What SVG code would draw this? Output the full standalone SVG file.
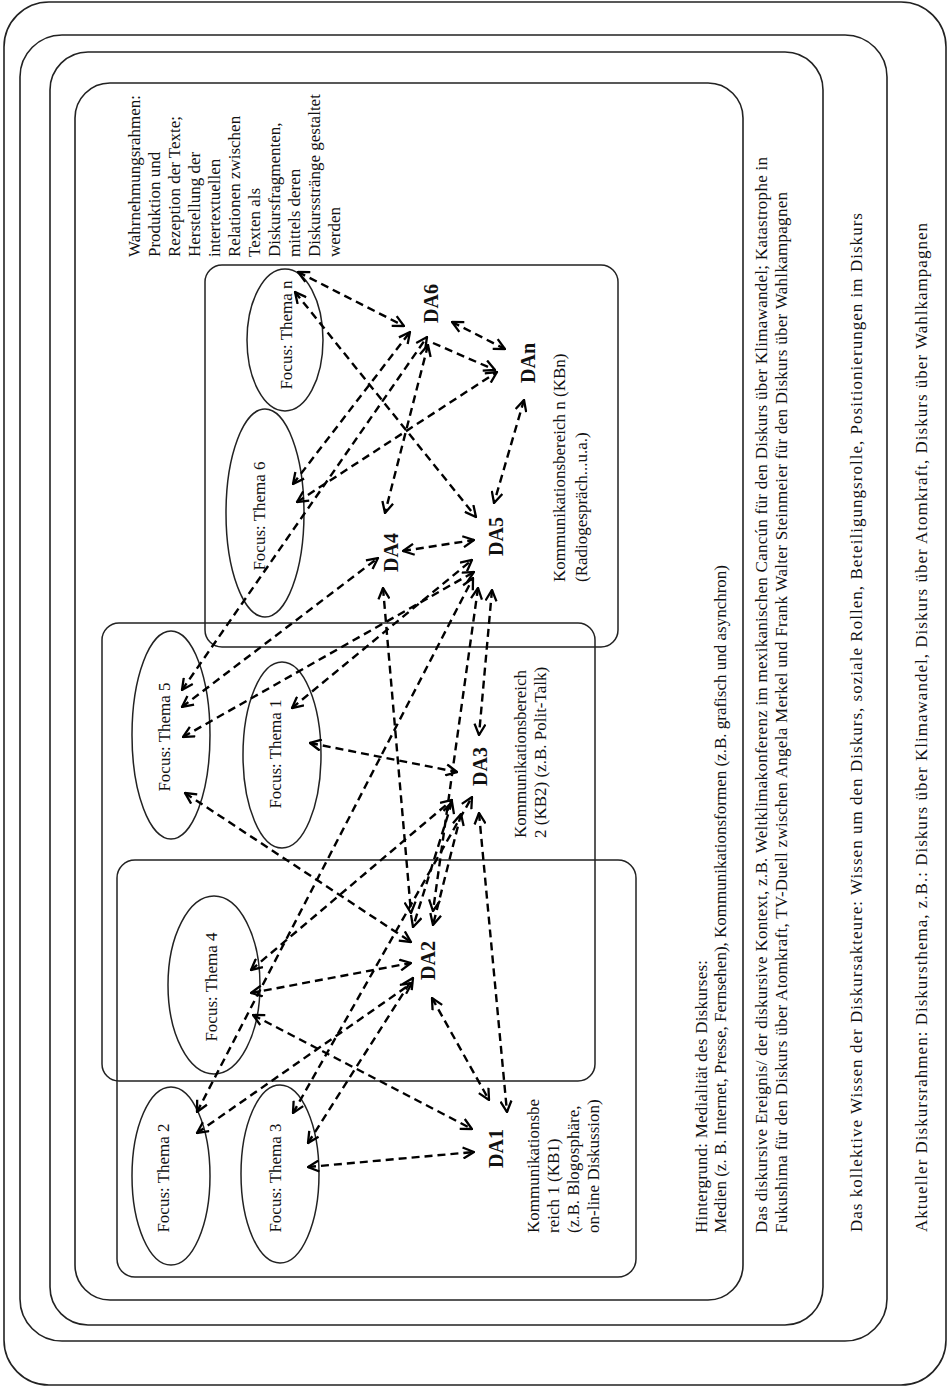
<svg xmlns="http://www.w3.org/2000/svg" width="949" height="1388" viewBox="0 0 949 1388">
<style>
.frame{fill:none;stroke:#222;stroke-width:1.6}
.box{fill:none;stroke:#222;stroke-width:1.5}
.ell{fill:none;stroke:#222;stroke-width:1.5}
.t{font-family:"Liberation Serif","Times New Roman",serif;font-size:17px;fill:#111}
.m{text-anchor:middle}
.da{font-family:"Liberation Serif","Times New Roman",serif;font-size:20px;font-weight:bold;fill:#111}
.c line{stroke:#000;stroke-width:2.4;stroke-dasharray:8 5;fill:none;marker-start:url(#ah);marker-end:url(#ah)}
.c line.e{marker-start:none}
</style>
<defs>
<marker id="ah" viewBox="0 0 13 13" refX="12" refY="6.5" markerWidth="13" markerHeight="13" markerUnits="userSpaceOnUse" orient="auto-start-reverse">
<path d="M1,1 L12,6.5 L1,12" fill="none" stroke="#000" stroke-width="2.3" stroke-dasharray="none"/>
</marker>
</defs>
<rect width="949" height="1388" fill="#fff"/>

<g id="frame-aktueller-diskursrahmen">
<rect class="frame" x="4" y="2" width="942" height="1383" rx="45"/>
<text class="t" transform="translate(927,1232) rotate(-90)" textLength="1009" lengthAdjust="spacing">Aktueller Diskursrahmen: Diskursthema, z.B.: Diskurs über Klimawandel, Diskurs über Atomkraft, Diskurs über Wahlkampagnen</text>
</g>
<g id="frame-kollektives-wissen">
<rect class="frame" x="20" y="35" width="867" height="1306" rx="42"/>
<text class="t" transform="translate(862,1232) rotate(-90)" textLength="1019" lengthAdjust="spacing">Das kollektive Wissen der Diskursakteure: Wissen um den Diskurs, soziale Rollen, Beteiligungsrolle, Positionierungen im Diskurs</text>
</g>
<g id="frame-diskursives-ereignis">
<rect class="frame" x="50" y="52" width="773" height="1273" rx="38"/>
<text class="t" transform="translate(767,1233) rotate(-90)" textLength="1076" lengthAdjust="spacing">Das diskursive Ereignis/ der diskursive Kontext, z.B. Weltklimakonferenz im mexikanischen Cancún für den Diskurs über Klimawandel; Katastrophe in</text>
<text class="t" transform="translate(787,1233) rotate(-90)" textLength="1041" lengthAdjust="spacing">Fukushima für den Diskurs über Atomkraft, TV-Duell zwischen Angela Merkel und Frank Walter Steinmeier für den Diskurs über Wahlkampagnen</text>
</g>
<g id="frame-hintergrund">
<rect class="frame" x="75" y="83" width="668" height="1217" rx="35"/>
<text class="t" transform="translate(707,1233) rotate(-90)" textLength="273" lengthAdjust="spacing">Hintergrund: Medialität des Diskurses:</text>
<text class="t" transform="translate(726,1233) rotate(-90)">Medien (z. B. Internet, Presse, Fernsehen), Kommunikationsformen (z.B. grafisch und asynchron)</text>
</g>
<g id="wahrnehmungsrahmen">
<text class="t" transform="translate(140,257) rotate(-90)">Wahrnehmungsrahmen:</text>
<text class="t" transform="translate(160,257) rotate(-90)">Produktion und</text>
<text class="t" transform="translate(180,257) rotate(-90)">Rezeption der Texte;</text>
<text class="t" transform="translate(200,257) rotate(-90)">Herstellung der</text>
<text class="t" transform="translate(220,257) rotate(-90)">intertextuellen</text>
<text class="t" transform="translate(240,257) rotate(-90)">Relationen zwischen</text>
<text class="t" transform="translate(260,257) rotate(-90)">Texten als</text>
<text class="t" transform="translate(280,257) rotate(-90)">Diskursfragmenten,</text>
<text class="t" transform="translate(300,257) rotate(-90)">mittels deren</text>
<text class="t" transform="translate(320,257) rotate(-90)">Diskursstränge gestaltet</text>
<text class="t" transform="translate(340,257) rotate(-90)">werden</text>
</g>

<g id="kbn">
<rect class="box" x="205" y="265" width="413" height="382" rx="17"/>
<text class="t" transform="translate(565,582) rotate(-90)">Kommunikationsbereich n (KBn)</text>
<text class="t" transform="translate(587,582) rotate(-90)">(Radiogespräch...u.a.)</text>
</g>
<g id="kb2">
<rect class="box" x="102" y="623" width="493" height="458" rx="17"/>
<text class="t" transform="translate(526,838) rotate(-90)">Kommunikationsbereich</text>
<text class="t" transform="translate(546,838) rotate(-90)">2 (KB2) (z.B. Polit-Talk)</text>
</g>
<g id="kb1">
<rect class="box" x="117" y="860" width="519" height="417" rx="18"/>
<text class="t" transform="translate(539,1233) rotate(-90)">Kommunikationsbe</text>
<text class="t" transform="translate(559,1233) rotate(-90)">reich 1 (KB1)</text>
<text class="t" transform="translate(579,1233) rotate(-90)">(z.B. Blogosphäre,</text>
<text class="t" transform="translate(599,1233) rotate(-90)">on-line Diskussion)</text>
</g>

<g id="thema-n"><ellipse class="ell" cx="285" cy="340" rx="38" ry="71"/><text class="t m" transform="translate(292,335) rotate(-90)">Focus: Thema n</text></g>
<g id="thema-6"><ellipse class="ell" cx="265" cy="513" rx="39" ry="104"/><text class="t m" transform="translate(265,516) rotate(-90)">Focus: Thema 6</text></g>
<g id="thema-5"><ellipse class="ell" cx="171" cy="735" rx="39" ry="104"/><text class="t m" transform="translate(170,737) rotate(-90)">Focus: Thema 5</text></g>
<g id="thema-1"><ellipse class="ell" cx="282" cy="755" rx="39" ry="93"/><text class="t m" transform="translate(281,754) rotate(-90)">Focus: Thema 1</text></g>
<g id="thema-4"><ellipse class="ell" cx="214" cy="985" rx="46" ry="89"/><text class="t m" transform="translate(217,987) rotate(-90)">Focus: Thema 4</text></g>
<g id="thema-2"><ellipse class="ell" cx="171" cy="1176" rx="39" ry="89"/><text class="t m" transform="translate(169,1178) rotate(-90)">Focus: Thema 2</text></g>
<g id="thema-3"><ellipse class="ell" cx="280" cy="1174" rx="39" ry="89"/><text class="t m" transform="translate(281,1178) rotate(-90)">Focus: Thema 3</text></g>

<g id="da6"><text class="da" transform="translate(438,323) rotate(-90)">DA6</text></g>
<g id="dan"><text class="da" transform="translate(535,383) rotate(-90)">DAn</text></g>
<g id="da5"><text class="da" transform="translate(503,556) rotate(-90)">DA5</text></g>
<g id="da4"><text class="da" transform="translate(398,572) rotate(-90)">DA4</text></g>
<g id="da3"><text class="da" transform="translate(487,786) rotate(-90)">DA3</text></g>
<g id="da2"><text class="da" transform="translate(435,980) rotate(-90)">DA2</text></g>
<g id="da1"><text class="da" transform="translate(503,1168) rotate(-90)">DA1</text></g>

<g id="connectors" class="c">
<line x1="298" y1="272" x2="404" y2="326"/>
<line x1="295" y1="292" x2="476" y2="517"/>
<line x1="293" y1="484" x2="410" y2="332"/>
<line x1="182" y1="690" x2="427" y2="337"/>
<line x1="297" y1="502" x2="497" y2="372"/>
<line x1="452" y1="322" x2="505" y2="349"/>
<line class="e" x1="433" y1="343" x2="495" y2="370"/>
<line x1="428" y1="345" x2="385" y2="513"/>
<line x1="524" y1="400" x2="494" y2="503"/>
<line x1="403" y1="551" x2="474" y2="540"/>
<line x1="182" y1="707" x2="378" y2="558"/>
<line x1="183" y1="737" x2="474" y2="572"/>
<line x1="185" y1="793" x2="411" y2="942"/>
<line x1="292" y1="708" x2="472" y2="560"/>
<line x1="310" y1="743" x2="457" y2="772"/>
<line x1="492" y1="590" x2="479" y2="735"/>
<line x1="478" y1="588" x2="433" y2="911"/>
<line x1="251" y1="970" x2="452" y2="800"/>
<line x1="251" y1="993" x2="411" y2="963"/>
<line x1="253" y1="1015" x2="472" y2="1129"/>
<line x1="197" y1="1112" x2="473" y2="578"/>
<line x1="197" y1="1133" x2="412" y2="983"/>
<line x1="293" y1="1113" x2="472" y2="797"/>
<line x1="308" y1="1143" x2="413" y2="978"/>
<line x1="383" y1="588" x2="411" y2="913"/>
<line x1="308" y1="1167" x2="474" y2="1152"/>
<line x1="432" y1="998" x2="489" y2="1100"/>
<line x1="479" y1="813" x2="507" y2="1112"/>
<line x1="452" y1="802" x2="413" y2="927"/>
<line x1="461" y1="814" x2="433" y2="925"/>
</g>
</svg>
